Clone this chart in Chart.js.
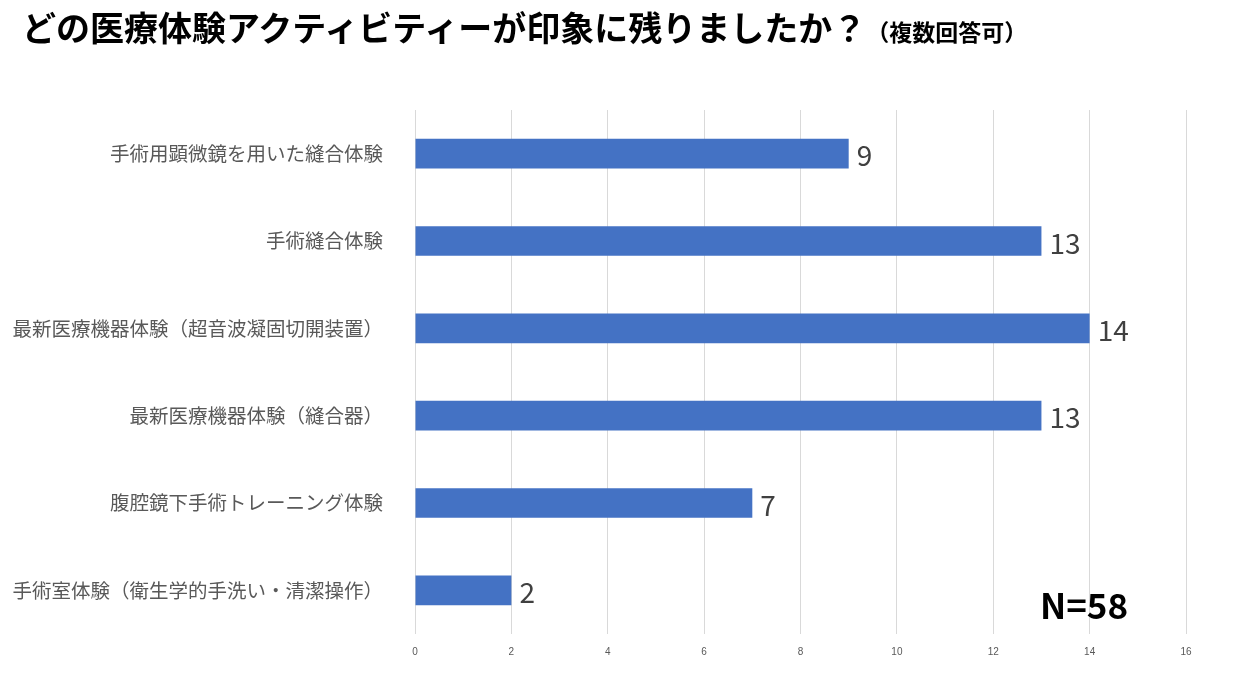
<!DOCTYPE html>
<html><head><meta charset="utf-8">
<script src="https://cdn.jsdelivr.net/npm/chart.js@4"></script>
<style>
body{margin:0;width:1260px;height:674px;background:#fff;position:relative;overflow:hidden;font-family:"Noto Sans CJK JP",sans-serif}
#title{position:absolute;left:22px;top:2px;font-size:34px;font-weight:bold;color:#000;white-space:nowrap}
#title small{font-size:23px}
#n{position:absolute;left:1040px;top:578px;font-size:35px;font-weight:bold;font-family:"Noto Sans CJK JP",sans-serif}
#wrap{position:absolute;left:0;top:0;width:1260px;height:674px}
</style></head><body>
<div id="wrap"><canvas id="c"></canvas></div>
<div id="title">どの医療体験アクティビティーが印象に残りましたか？<small>（複数回答可）</small></div>
<div id="n">N=58</div>
<script>
// categories and counts
const categories = ['手術用顕微鏡を用いた縫合体験', '手術縫合体験', '最新医療機器体験（超音波凝固切開装置）', '最新医療機器体験（縫合器）', '腹腔鏡下手術トレーニング体験', '手術室体験（衛生学的手洗い・清潔操作）'];
const counts = [9, 13, 14, 13, 7, 2];

// value labels at bar ends
const barLabels = {
  id: 'barLabels',
  afterDatasetsDraw(chart) {
    const ctx = chart.ctx;
    ctx.save();
    ctx.font = '28px "Noto Sans CJK JP"';
    ctx.fillStyle = '#404040';
    ctx.textBaseline = 'middle';
    chart.getDatasetMeta(0).data.forEach((bar, i) => {
      ctx.fillText(counts[i], bar.x + 8, bar.y + 2);
    });
    ctx.restore();
  }
};

new Chart(document.getElementById('c'), {
  type: 'bar',
  data: {
    labels: categories,
    datasets: [{ data: counts, backgroundColor: '#4472C4', barPercentage: 0.34, categoryPercentage: 1 }]
  },
  options: {
    indexAxis: 'y',
    responsive: true,
    maintainAspectRatio: false,
    animation: false,
    layout: { padding: { top: 110, right: 74, bottom: 4, left: 0 } },
    plugins: { legend: { display: false }, tooltip: { enabled: false } },
    scales: {
      x: {
        min: 0, max: 16,
        ticks: { stepSize: 2, color: '#595959', font: { size: 10 }, padding: 12 },
        grid: { color: '#d9d9d9', drawTicks: false },
        border: { display: false }
      },
      y: {
        afterFit(axis) { axis.width = 415; },
        ticks: { color: '#595959', font: { size: 19.5, family: '"Noto Sans CJK JP"' }, padding: 24 },
        grid: { display: false },
        border: { display: false }
      }
    }
  },
  plugins: [barLabels]
});
</script>
</body></html>
